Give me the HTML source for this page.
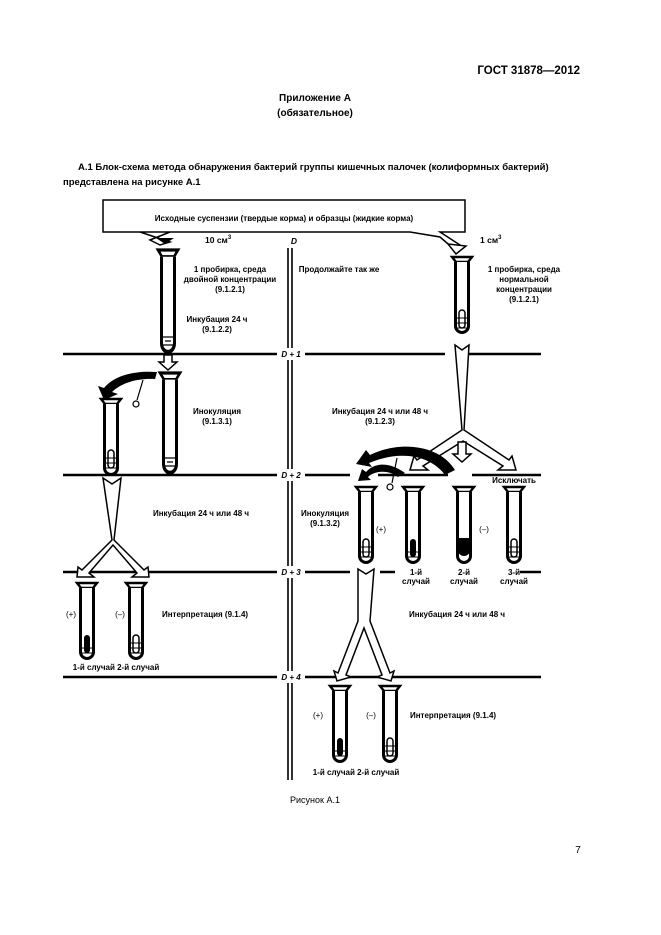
<!DOCTYPE html>
<html><head><meta charset="utf-8"><style>
html,body{margin:0;padding:0;background:#fff}
svg{display:block}
text{font-family:"Liberation Sans",sans-serif;fill:#000}
.b{font-weight:bold}
</style></head><body>
<svg width="661" height="935" viewBox="0 0 661 935" xmlns="http://www.w3.org/2000/svg">
<defs>
<g id="tube">
<path d="M-10 0 h20 l-4 5 h-12 z" fill="#fff" stroke="#000" stroke-width="2.4"/>
<path d="M-6.5 5 V69 a6.5 6.5 0 0 0 13 0 V5" fill="#fff" stroke="#000" stroke-width="3"/>
</g>
<g id="durham"><rect x="-3" y="-18" width="6" height="18" rx="3" fill="none" stroke="#000" stroke-width="1.5"/><path d="M-5 -10 h10 M-5 -5 h10 M-5 0 h10" stroke="#000" stroke-width="1"/></g>
<g id="durhamF"><rect x="-3" y="-18" width="6" height="18" rx="3" fill="#000"/><path d="M-5 -5 h10 M-5 0 h10" stroke="#000" stroke-width="1"/></g>
<g id="liq"><path d="M-5 -8 h10 M-3 -4 h6 M-5 0 h10" stroke="#000" stroke-width="1.3"/></g>
</defs>

<text x="580" y="74" text-anchor="end" class="b" font-size="11.5">ГОСТ 31878—2012</text>
<text x="315" y="101" text-anchor="middle" class="b" font-size="10">Приложение А</text>
<text x="315" y="116" text-anchor="middle" class="b" font-size="10">(обязательное)</text>
<text x="78" y="170" class="b" font-size="9.5">А.1  Блок-схема метода обнаружения бактерий группы кишечных палочек (колиформных бактерий)</text>
<text x="63" y="185" class="b" font-size="9.5">представлена на рисунке А.1</text>

<!-- top box -->
<path d="M103 200 H465 V232 H440 L460 245 L455 250 L440 237 L410 232 H140 L170 242 L160 245 L150 240 L170 232 H103 Z" fill="#fff" stroke="#000" stroke-width="1.5"/>
<text x="284" y="221" text-anchor="middle" class="b" font-size="8">Исходные суспензии (твердые корма) и образцы (жидкие корма)</text>
<path d="M156 238 h18 l-9 6 z" fill="#000"/>
<path d="M448 244 l18 2 l-10 8 z" fill="#fff" stroke="#000" stroke-width="1.5"/>

<!-- horizontal lines -->
<g stroke="#000" stroke-width="2.5">
<line x1="63" y1="354" x2="277" y2="354"/><line x1="305" y1="354" x2="445" y2="354"/><line x1="466" y1="354" x2="541" y2="354"/>
<line x1="63" y1="475" x2="277" y2="475"/><line x1="305" y1="475" x2="350" y2="475"/><line x1="378" y1="475" x2="448" y2="475"/><line x1="472" y1="475" x2="541" y2="475"/>
<line x1="63" y1="572" x2="277" y2="572"/><line x1="305" y1="572" x2="350" y2="572"/><line x1="380" y1="572" x2="395" y2="572"/><line x1="520" y1="572" x2="541" y2="572"/>
<line x1="63" y1="677" x2="277" y2="677"/><line x1="305" y1="677" x2="541" y2="677"/>
<path d="M288 248 V348 M292 248 V348 M288 360 V469 M292 360 V469 M288 481 V566 M292 481 V566 M288 578 V671 M292 578 V671 M288 683 V780 M292 683 V780" stroke-width="1.6"/>
</g>
<g class="b" font-size="8.5" font-style="italic" text-anchor="middle">
<text x="294" y="244">D</text>
<text x="291" y="357" font-size="8">D + 1</text>
<text x="291" y="478" font-size="8">D + 2</text>
<text x="291" y="575" font-size="8">D + 3</text>
<text x="291" y="680" font-size="8">D + 4</text>
</g>

<g class="b" font-size="8" text-anchor="middle">
<text x="205" y="243" text-anchor="start" font-size="8.5">10 см<tspan dy="-4" font-size="6">3</tspan></text>
<text x="480" y="243" text-anchor="start" font-size="8.5">1 см<tspan dy="-4" font-size="6">3</tspan></text>
<text x="230" y="272">1 пробирка, среда</text>
<text x="230" y="282">двойной концентрации</text>
<text x="230" y="292">(9.1.2.1)</text>
<text x="217" y="322">Инкубация 24 ч</text>
<text x="217" y="332">(9.1.2.2)</text>
<text x="339" y="272">Продолжайте так же</text>
<text x="524" y="272">1 пробирка, среда</text>
<text x="524" y="282">нормальной</text>
<text x="524" y="292">концентрации</text>
<text x="524" y="302">(9.1.2.1)</text>
<text x="217" y="414">Инокуляция</text>
<text x="217" y="424">(9.1.3.1)</text>
<text x="380" y="414">Инкубация 24 ч или 48 ч</text>
<text x="380" y="424">(9.1.2.3)</text>
<text x="514" y="483">Исключать</text>
<text x="325" y="516">Инокуляция</text>
<text x="325" y="526">(9.1.3.2)</text>
<text x="201" y="516">Инкубация 24 ч или 48 ч</text>
<text x="381" y="532" font-weight="normal">(+)</text>
<text x="484" y="532" font-weight="normal">(–)</text>
<text x="416" y="575">1-й</text><text x="416" y="584">случай</text>
<text x="464" y="575">2-й</text><text x="464" y="584">случай</text>
<text x="514" y="575">3-й</text><text x="514" y="584">случай</text>
<text x="71" y="617" font-weight="normal">(+)</text>
<text x="120" y="617" font-weight="normal">(–)</text>
<text x="205" y="617">Интерпретация (9.1.4)</text>
<text x="116" y="670">1-й случай  2-й случай</text>
<text x="457" y="617">Инкубация 24 ч или 48 ч</text>
<text x="318" y="718" font-weight="normal">(+)</text>
<text x="371" y="718" font-weight="normal">(–)</text>
<text x="453" y="718">Интерпретация (9.1.4)</text>
<text x="356" y="775">1-й случай  2-й случай</text>
</g>
<text x="315" y="803" text-anchor="middle" font-size="9">Рисунок А.1</text>
<text x="578" y="853" text-anchor="middle" font-size="10">7</text>

<use href="#tube" transform="translate(168,250) scale(1,1.35)"/>
<use href="#liq" transform="translate(168,345)"/>
<use href="#tube" transform="translate(462,257)"/>
<use href="#durham" transform="translate(462,328)"/>
<use href="#tube" transform="translate(170,373) scale(1,1.32)"/>
<use href="#liq" transform="translate(170,466)"/>
<use href="#tube" transform="translate(111,399)"/>
<use href="#durham" transform="translate(111,468)"/>
<use href="#tube" transform="translate(366,487)"/>
<use href="#durham" transform="translate(366,557)"/>
<use href="#tube" transform="translate(413,487)"/>
<use href="#durhamF" transform="translate(413,557)"/>
<use href="#tube" transform="translate(464,487)"/>
<path d="M458 538 h12 V550 a6 6 0 0 1 -12 0 z" fill="#000"/>
<use href="#tube" transform="translate(514,487)"/>
<use href="#durham" transform="translate(514,557)"/>
<use href="#tube" transform="translate(87,583)"/>
<use href="#durhamF" transform="translate(87,653)"/>
<use href="#tube" transform="translate(136,583)"/>
<use href="#durham" transform="translate(136,653)"/>
<use href="#tube" transform="translate(340,686)"/>
<use href="#durhamF" transform="translate(340,756)"/>
<use href="#tube" transform="translate(390,686)"/>
<use href="#durham" transform="translate(390,756)"/>

<g fill="#fff" stroke="#000" stroke-width="1.5">
<path d="M164 355 h8 v7 h5 l-9 8 l-9 -8 h5 z"/>
<path d="M103 478 l9 6 l9 -6 l-7 62 l30 30 l4 -3 l1 10 l-17 0 l5 -4 l-24 -28 l-24 28 l5 4 l-17 0 l1 -10 l4 3 l30 -30 z"/>
<path d="M455 345 l7 5 l7 -5 l-5 85 l45 30 l3 -4 l4 14 l-18 0 l5 -4 l-40 -25 l-40 25 l5 4 l-18 0 l4 -14 l3 4 l45 -30 z"/>
<path d="M458 442 h8 v12 h5 l-9 8 l-9 -8 h5 z"/>
<path d="M358 569 l8 5 l8 -5 l-4 52 l20 52 l4 -2 l-3 10 l-14 -4 l5 -2 l-18 -47 l-18 47 l5 2 l-14 4 l-3 -10 l4 2 l20 -52 z"/>
</g>
<g fill="#000">
<path d="M157 372 C130 370 112 378 104 388 l-6 -2 l6 14 l14 -6 l-6 -2 C120 384 135 378 155 379 z"/>
<path d="M455 470 C440 445 400 440 370 455 l-4 -5 l-10 14 l16 3 l-3 -4 C400 450 430 455 445 475 z"/>
<path d="M405 473 C390 462 375 462 366 472 l-4 -3 l-4 12 l13 -1 l-3 -3 C375 470 390 470 398 477 z"/>
</g>
<g stroke="#000" stroke-width="1.2" fill="#fff">
<line x1="143" y1="380" x2="137" y2="400"/><circle cx="136" cy="404" r="3"/>
<line x1="397" y1="458" x2="392" y2="483"/><circle cx="390" cy="487" r="3"/>
</g>
</svg>
</body></html>
